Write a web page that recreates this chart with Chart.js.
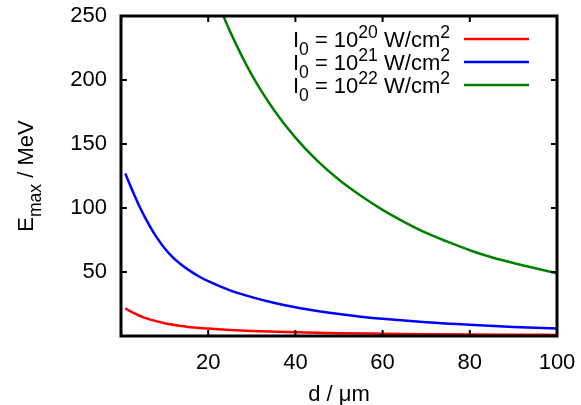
<!DOCTYPE html>
<html>
<head>
<meta charset="utf-8">
<script src="https://cdn.jsdelivr.net/npm/chart.js@4"></script>
<style>
  html, body { margin: 0; padding: 0; background: #fff; }
  #wrap { width: 581px; height: 405px; }
</style>
</head>
<body>
<div id="wrap"><canvas id="emaxChart" width="581" height="405"></canvas></div>
<script>
// ===== Datos =====
const dRed = [1, 2, 3, 4, 5, 6, 8, 10, 12, 15, 20, 25, 30, 40, 50, 60, 70, 80, 90, 100];
const eRed = [21.6, 19.6, 17.8, 16.2, 14.8, 13.6, 11.6, 10, 8.8, 7.3, 5.8, 4.7, 3.9, 2.9, 2.2, 1.8, 1.45, 1.2, 1.0, 0.85];

const dBlue = [1, 2, 3, 4, 5, 6, 7, 8, 10, 12, 14, 16, 18, 20, 25, 30, 35, 40, 45, 50, 55, 60, 70, 80, 90, 100];
const eBlue = [127, 118.5, 110.5, 103, 96, 89.5, 83.5, 78, 68.5, 61, 55.3, 50.5, 46.3, 42.8, 35.7, 30.4, 26, 22.4, 19.5, 17.1, 15.1, 13.4, 10.7, 8.7, 7.1, 5.8];

const dGreen = [23.5, 25, 30, 35, 40, 45, 50, 55, 60, 65, 70, 75, 80, 85, 90, 95, 100];
const eGreen = [250, 238, 204, 177, 155, 137, 122, 109.5, 98.5, 89, 80.5, 73.5, 67, 61.5, 57, 53, 49];

const exponents = [20, 21, 22];
const colors = ["#ff0000", "#0000ff", "#008000"];

const xTicks = [20, 40, 60, 80, 100];
const yTicks = [50, 100, 150, 200, 250];

const FONT = "Liberation Sans, Arial, sans-serif";
const FS = 22;

const toPoints = (xs, ys) => xs.map((x, i) => ({ x: x, y: ys[i] }));

// texto con subíndices / superíndices
function richWidth(ctx, parts) {
  let w = 0;
  parts.forEach(p => {
    ctx.font = (p.s ? FS * 0.8 : FS) + "px " + FONT;
    w += ctx.measureText(p.t).width;
  });
  return w;
}

function drawRich(ctx, parts, x, y, align) {
  let cx = x;
  const w = richWidth(ctx, parts);
  if (align === "right") cx = x - w;
  if (align === "center") cx = x - w / 2;
  ctx.textAlign = "left";
  ctx.textBaseline = "alphabetic";
  parts.forEach(p => {
    ctx.font = (p.s ? FS * 0.8 : FS) + "px " + FONT;
    let dy = 0;
    if (p.s === "sub") dy = 8;
    if (p.s === "sup") dy = -9;
    ctx.fillText(p.t, cx, y + dy);
    cx += ctx.measureText(p.t).width;
  });
}

const framePlugin = {
  id: "frame",
  afterDatasetsDraw(chart) {
    const ctx = chart.ctx;
    const a = chart.chartArea;
    const xs = chart.scales.x;
    const ys = chart.scales.y;
    ctx.save();
    ctx.fillStyle = "#000";
    ctx.strokeStyle = "#000";

    // ticks hacia dentro (abajo/arriba, izquierda/derecha)
    ctx.lineWidth = 2;
    ctx.beginPath();
    xTicks.forEach(v => {
      const px = xs.getPixelForValue(v);
      ctx.moveTo(px, a.bottom);
      ctx.lineTo(px, a.bottom - 6);
      ctx.moveTo(px, a.top);
      ctx.lineTo(px, a.top + 6);
    });
    yTicks.forEach(v => {
      const py = ys.getPixelForValue(v);
      ctx.moveTo(a.left, py);
      ctx.lineTo(a.left + 6, py);
      ctx.moveTo(a.right, py);
      ctx.lineTo(a.right - 6, py);
    });
    ctx.stroke();

    // marco
    ctx.lineWidth = 3;
    ctx.strokeRect(a.left, a.top, a.right - a.left, a.bottom - a.top);

    // leyenda
    exponents.forEach((ex, i) => {
      const ly = 39 + i * 23;
      drawRich(ctx, [
        { t: "I" }, { t: "0", s: "sub" }, { t: " = 10" }, { t: String(ex), s: "sup" },
        { t: " W/cm" }, { t: "2", s: "sup" }
      ], 450, ly + 8, "right");
      ctx.strokeStyle = colors[i];
      ctx.lineWidth = 2.5;
      ctx.beginPath();
      ctx.moveTo(464, ly);
      ctx.lineTo(529, ly);
      ctx.stroke();
    });

    // títulos de ejes
    ctx.fillStyle = "#000";
    drawRich(ctx, [{ t: "d / μm" }], (a.left + a.right) / 2, 401, "center");

    ctx.translate(33, (a.top + a.bottom) / 2);
    ctx.rotate(-Math.PI / 2);
    drawRich(ctx, [{ t: "E" }, { t: "max", s: "sub" }, { t: " / MeV" }], 0, 0, "center");
    ctx.restore();
  },
};

const datasets = [
  [dRed, eRed],
  [dBlue, eBlue],
  [dGreen, eGreen],
].map((s, i) => ({
  label: "I0 = 10^" + exponents[i] + " W/cm2",
  data: toPoints(s[0], s[1]),
  borderColor: colors[i],
  borderWidth: 2.5,
  pointRadius: 0,
  showLine: true,
  fill: false,
  cubicInterpolationMode: "monotone",
}));

new Chart(document.getElementById("emaxChart"), {
  type: "scatter",
  data: { datasets: datasets },
  options: {
    responsive: false,
    animation: false,
    layout: { padding: { top: 16, right: 24, left: 0, bottom: 0 } },
    plugins: {
      legend: { display: false },
      tooltip: { enabled: false },
    },
    scales: {
      x: {
        type: "linear",
        min: 0,
        max: 100,
        afterFit: s => { s.height = 69; s.paddingLeft = 0; s.paddingRight = 0; },
        afterBuildTicks: s => { s.ticks = xTicks.map(v => ({ value: v })); },
        grid: { display: false, drawTicks: false },
        border: { display: false },
        ticks: {
          color: "#000",
          padding: 14,
          font: { family: FONT, size: FS },
          maxRotation: 0,
        },
      },
      y: {
        type: "linear",
        min: 0,
        max: 250,
        afterFit: s => { s.width = 121; s.paddingTop = 0; s.paddingBottom = 0; },
        afterBuildTicks: s => { s.ticks = yTicks.map(v => ({ value: v })); },
        grid: { display: false, drawTicks: false },
        border: { display: false },
        ticks: {
          color: "#000",
          padding: 14,
          font: { family: FONT, size: FS },
        },
      },
    },
  },
  plugins: [framePlugin],
});
</script>
</body>
</html>
